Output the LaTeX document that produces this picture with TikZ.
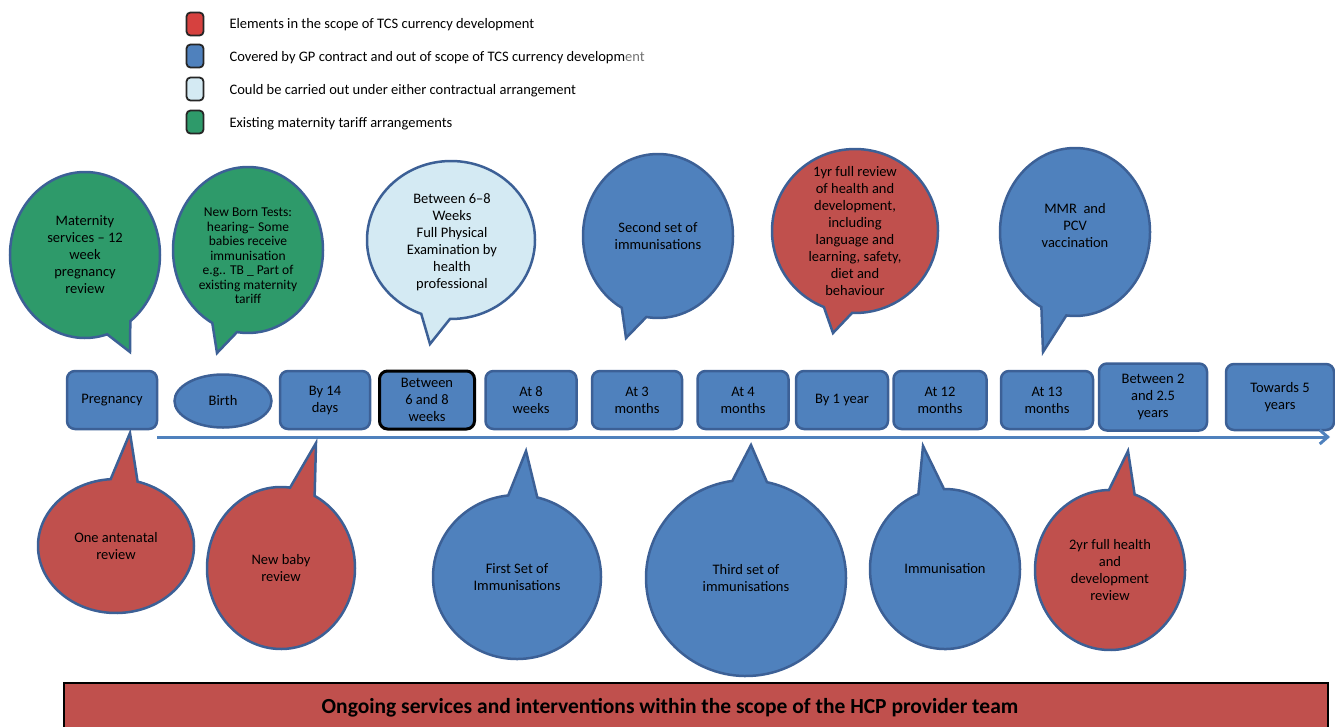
\documentclass[tikz,border=0pt]{standalone}
\usepackage{fontspec}
\setmainfont{Carlito}
\usetikzlibrary{shapes.geometric,shapes.callouts,arrows.meta}
\definecolor{nblue}{RGB}{79,129,189}
\definecolor{nred}{RGB}{192,80,77}
\definecolor{kred}{RGB}{214,65,63}
\definecolor{ngreen}{RGB}{46,154,106}
\definecolor{nlight}{RGB}{212,234,243}
\definecolor{nedge}{RGB}{60,96,150}

\tikzset{
  bubble/.style={ellipse callout, draw=nedge, line width=2.5, fill=#1, callout pointer arc=20, inner sep=0},
  period/.style={draw=nedge, fill=nblue, line width=2.5, rounded corners=8, minimum width=90, minimum height=58, align=center, inner sep=2, font=\fontsize{14.5}{17}\selectfont},
  txt/.style={align=center, font=\fontsize{14.5}{17}\selectfont},
  key/.style={draw=black!85, line width=1.8, rounded corners=4, minimum width=17, minimum height=23},
}

\begin{document}
\begin{tikzpicture}[x=1pt, y=-1pt]
    \useasboundingbox (0,0) rectangle (1335,726);

    % legend
    \node[key, fill=kred] (k1) at (195,24) {};
    \node[key, fill=nblue] (k2) at (195,56) {};
    \node[key, fill=nlight] (k3) at (195,89) {};
    \node[key, fill=ngreen] (k4) at (195,122) {};
    \node[txt, anchor=west] (l1) at (226,25) {Elements in the scope of TCS currency development};
    \node[txt, anchor=west] (l2) at (226,58) {Covered by GP contract and out of scope of TCS currency developm{\color{black!55}ent}};
    \node[txt, anchor=west] (l3) at (226,91) {Could be carried out under either contractual arrangement};
    \node[txt, anchor=west] (l4) at (226,124) {Existing maternity tariff arrangements};

    % time line
    \node[period] (preg) at (112,400) {Pregnancy};
    \node[period, ellipse, minimum width=97, minimum height=53] (birth) at (223,401) {Birth};
    \node[period] (d14) at (325,400) {By 14\\days};
    \node[period, draw=black, line width=3, minimum width=95, inner sep=0] (w68) at (427,400) {Between\\6 and 8\\weeks};
    \node[period, minimum width=91] (w8) at (531,400) {At 8\\weeks};
    \node[period] (m3) at (637,400) {At 3\\months};
    \node[period, minimum width=91] (m4) at (743,400) {At 4\\months};
    \node[period, minimum width=92] (y1) at (842,400) {By 1 year};
    \node[period, minimum width=93] (m12) at (940,400) {At 12\\months};
    \node[period, minimum width=92] (m13) at (1047,400) {At 13\\months};
    \node[period, minimum width=108, minimum height=67] (y2) at (1153,397) {Between 2\\and 2.5\\years};
    \node[period, minimum width=108, minimum height=66] (y5) at (1280,397) {Towards 5\\years};

    \coordinate (tl0) at (157,437);
    \coordinate (tl1) at (1330,437);
    \draw[nblue, line width=3, -{Straight Barb[length=8,width=14]}] (tl0) -- (tl1);

    % bubbles above
    \node[bubble=ngreen, minimum width=150, minimum height=166, callout absolute pointer={(130,352)}] (mat) at (85,255) {};
    \node[bubble=ngreen, minimum width=150, minimum height=166, callout absolute pointer={(217,353)}] (nbt) at (248,250) {};
    \node[bubble=nlight, minimum width=168, minimum height=158, callout absolute pointer={(430,344)}] (phys) at (451,240) {};
    \node[bubble=nblue, minimum width=150, minimum height=164, callout absolute pointer={(626,338)}] (imm2) at (658,236) {};
    \node[bubble=nred, minimum width=166, minimum height=164, callout absolute pointer={(833,333)}] (rev1) at (855,231) {};
    \node[bubble=nblue, minimum width=150, minimum height=168, callout absolute pointer={(1043,352)}] (mmr) at (1075,232) {};

    \node[txt] at (mat) {Maternity\\services -- 12\\week\\pregnancy\\review};
    \node[txt, font=\fontsize{13.5}{14.5}\selectfont] at (248,256) {New Born Tests:\\hearing-- Some\\babies receive\\immunisation\\e.g.. TB \_ Part of\\existing maternity\\tariff};
    \node[txt] at (452,242) {Between 6--8\\Weeks\\Full Physical\\Examination by\\health\\professional};
    \node[txt] at (imm2) {Second set of\\immunisations};
    \node[txt] at (rev1) {1yr full review\\of health and\\development,\\including\\language and\\learning, safety,\\diet and\\behaviour};
    \node[txt] at (1075,226) {MMR~~and\\PCV\\vaccination};

    % bubbles below
    \node[bubble=nred, minimum width=156, minimum height=134, callout absolute pointer={(130,433)}] (ante) at (116,546) {};
    \node[bubble=nred, minimum width=148, minimum height=162, callout absolute pointer={(316,443)}] (baby) at (281,568) {};
    \node[bubble=nblue, minimum width=168, minimum height=164, callout absolute pointer={(526,451)}] (imm1) at (517,577) {};
    \node[bubble=nblue, minimum width=200, minimum height=196, callout absolute pointer={(751,445)}] (imm3) at (746,578) {};
    \node[bubble=nblue, minimum width=150, minimum height=160, callout absolute pointer={(923,446)}] (imm) at (945,569) {};
    \node[bubble=nred, minimum width=150, minimum height=160, callout absolute pointer={(1128,451)}] (rev2) at (1110,570) {};

    \node[txt] at (ante) {One antenatal\\review};
    \node[txt] at (baby) {New baby\\review};
    \node[txt] at (imm1) {First Set of\\Immunisations};
    \node[txt] at (imm3) {Third set of\\immunisations};
    \node[txt] at (imm) {Immunisation};
    \node[txt] at (rev2) {2yr full health\\and\\development\\review};

    % ongoing services
    \draw[fill=nred, line width=1.5] (64,683) rectangle (1328,745);
    \node[font=\fontsize{21.5}{24}\selectfont\bfseries] (hcp) at (670,708) {Ongoing services and interventions within the scope of the HCP provider team};
\end{tikzpicture}
\end{document}
